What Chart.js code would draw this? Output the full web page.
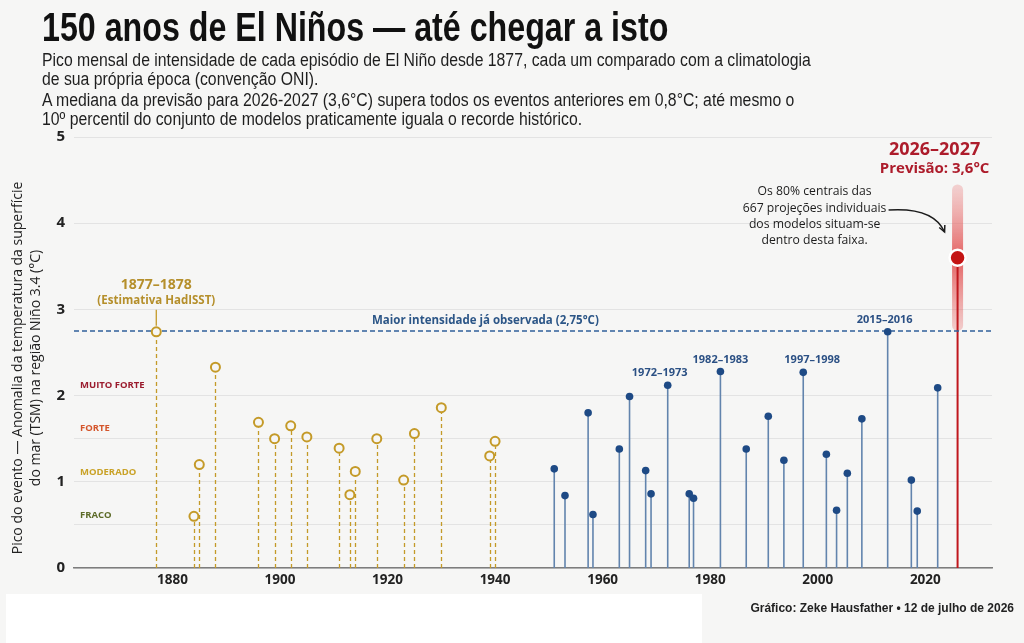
<!DOCTYPE html>
<html lang="pt">
<head>
<meta charset="utf-8">
<title>150 anos de El Niños</title>
<script src="https://cdn.jsdelivr.net/npm/chart.js@4.4.1/dist/chart.umd.min.js"></script>
<style>
  html, body { margin: 0; padding: 0; }
  body {
    width: 1024px;
    height: 643px;
    background: #f6f6f5;
    position: relative;
    overflow: hidden;
  }
  #grafico { position: absolute; left: 0; top: 0; }
  #titulo {
    position: absolute;
    left: 42px;
    top: 7px;
    margin: 0;
    font: bold 40px/40px "Liberation Sans", sans-serif;
    color: #111;
    white-space: nowrap;
    transform: scaleX(0.805);
    transform-origin: left top;
  }
  .subtitulo {
    position: absolute;
    left: 42px;
    margin: 0;
    font: 18px/19px "Liberation Sans", sans-serif;
    color: #1e1e1e;
    white-space: nowrap;
    transform: scaleX(0.877);
    transform-origin: left top;
  }
  #caixa {
    position: absolute;
    left: 6px;
    top: 594px;
    width: 696px;
    height: 49px;
    background: #fff;
  }
  #fonte {
    position: absolute;
    right: 10px;
    top: 601px;
    font: bold 12px "Liberation Sans", sans-serif;
    color: #222;
    white-space: nowrap;
  }
</style>
</head>
<body>
<canvas id="grafico" width="1024" height="643"></canvas>
<h1 id="titulo">150 anos de El Niños — até chegar a isto</h1>
<p class="subtitulo" style="top:51px">Pico mensal de intensidade de cada episódio de El Niño desde 1877, cada um comparado com a climatologia<br>de sua própria época (convenção ONI).</p>
<p class="subtitulo" style="top:91px">A mediana da previsão para 2026-2027 (3,6°C) supera todos os eventos anteriores em 0,8°C; até mesmo o<br>10º percentil do conjunto de modelos praticamente iguala o recorde histórico.</p>
<div id="caixa"></div>
<div id="fonte">Gráfico: Zeke Hausfather • 12 de julho de 2026</div>

<script>
// Eixos
const xTicks = [1880, 1900, 1920, 1940, 1960, 1980, 2000, 2020];
const yGridValues = [0, 0.5, 1, 1.5, 2, 3, 4, 5];

// Eventos antigos (estimativa HadISST) - ano de início e pico (°C)
const hadYears = [1877, 1884, 1885, 1888, 1896, 1899, 1902, 1905, 1911, 1913, 1914, 1918, 1923, 1925, 1930, 1939, 1940];
const hadPeaks = [2.74, 0.6, 1.2, 2.33, 1.69, 1.5, 1.65, 1.52, 1.39, 0.85, 1.12, 1.5, 1.02, 1.56, 1.86, 1.3, 1.47];

// Eventos observados desde 1950
const obsYears = [1951, 1953, 1957.3, 1958.2, 1963.1, 1965, 1968, 1969, 1972.1, 1976.1, 1976.9, 1981.9, 1986.7, 1990.8, 1993.7, 1997.3, 2001.6, 2003.5, 2005.5, 2008.2, 2013, 2017.4, 2018.5, 2022.3];
const obsPeaks = [1.15, 0.84, 1.8, 0.62, 1.38, 1.99, 1.13, 0.86, 2.12, 0.86, 0.81, 2.28, 1.38, 1.76, 1.25, 2.27, 1.32, 0.67, 1.1, 1.73, 2.74, 1.02, 0.66, 2.09];

// Recorde e previsão
const recordPeak = 2.75;
const forecastYear = 2026;
const forecastMedian = 3.6;
const forecastLow = 2.75;
const forecastHigh = 4.45;

// Categorias de intensidade (limiar inferior)
const strengthNames = ["FRACO", "MODERADO", "FORTE", "MUITO FORTE"];
const strengthThresholds = [0.5, 1.0, 1.5, 2.0];

// Eventos com rótulo
const labelledNames = ["1972–1973", "1982–1983", "1997–1998", "2015–2016"];
const labelledYears = [1972.1, 1981.9, 1997.3, 2013];
const labelledPeaks = [2.12, 2.28, 2.27, 2.74];

// Estilos
const xMin = 1861.7;
const xMax = 2032.4;
const labelShift = [-8, 0, 9, -3];
const strengthColors = ["#5d6b28", "#c9a227", "#d4552b", "#9b1c2e"];
const gold = "#c49a28";
const goldText = "#b58f2b";
const blueDot = "#1e4a85";
const blueStem = "#6284ad";
const blueText = "#2b5084";
const red = "#c0171d";
const redText = "#ad1c2b";
const bg = "#f6f6f5";
const sans = '"Open Sans", sans-serif';

// Plugin que desenha hastes, faixa da previsão e textos
const elNinoPlugin = {
  id: "elNino",
  beforeDatasetsDraw(chart) {
    const { ctx, chartArea } = chart;
    const x = chart.scales.x;
    const y = chart.scales.y;
    const y0 = y.getPixelForValue(0);
    ctx.save();

    // Rótulos das categorias
    ctx.font = "bold 9.5px " + sans;
    ctx.textAlign = "left";
    ctx.textBaseline = "middle";
    strengthNames.forEach(function (name, i) {
      ctx.fillStyle = strengthColors[i];
      ctx.fillText(name, chartArea.left + 6, y.getPixelForValue(strengthThresholds[i]) - 10);
    });

    // Faixa de 80% da previsão
    const fx = x.getPixelForValue(forecastYear);
    const top = y.getPixelForValue(forecastHigh);
    const bot = y.getPixelForValue(forecastLow);
    const mid = y.getPixelForValue(forecastMedian);
    const grad = ctx.createLinearGradient(0, top, 0, bot);
    grad.addColorStop(0, "rgba(236,140,140,0.35)");
    grad.addColorStop((mid - top) / (bot - top), "rgba(224,72,72,0.85)");
    grad.addColorStop(1, "rgba(232,110,110,0.3)");
    ctx.fillStyle = grad;
    ctx.beginPath();
    ctx.roundRect(fx - 5.5, top, 11, bot - top, 5.5);
    ctx.fill();

    // Hastes tracejadas (HadISST)
    ctx.strokeStyle = gold;
    ctx.lineWidth = 1.3;
    ctx.setLineDash([4, 3]);
    hadYears.forEach(function (yr, i) {
      const px = Math.round(x.getPixelForValue(yr)) + 0.5;
      ctx.beginPath();
      ctx.moveTo(px, y0);
      ctx.lineTo(px, y.getPixelForValue(hadPeaks[i]) + 5);
      ctx.stroke();
    });
    ctx.setLineDash([]);

    // Linha guia do evento 1877-1878
    const p1877 = x.getPixelForValue(hadYears[0]);
    ctx.lineWidth = 1.3;
    ctx.beginPath();
    ctx.moveTo(p1877, y.getPixelForValue(hadPeaks[0]) - 6);
    ctx.lineTo(p1877, y.getPixelForValue(hadPeaks[0]) - 22);
    ctx.stroke();

    // Hastes contínuas (observados)
    ctx.strokeStyle = blueStem;
    ctx.lineWidth = 1.6;
    obsYears.forEach(function (yr, i) {
      const px = x.getPixelForValue(yr);
      ctx.beginPath();
      ctx.moveTo(px, y0);
      ctx.lineTo(px, y.getPixelForValue(obsPeaks[i]));
      ctx.stroke();
    });

    // Haste da previsão
    ctx.strokeStyle = red;
    ctx.lineWidth = 2;
    ctx.beginPath();
    ctx.moveTo(fx, y0);
    ctx.lineTo(fx, mid);
    ctx.stroke();
    ctx.restore();
  },
  afterDatasetsDraw(chart) {
    const { ctx } = chart;
    const x = chart.scales.x;
    const y = chart.scales.y;
    ctx.save();
    ctx.textAlign = "center";
    ctx.textBaseline = "middle";

    // Linha de recorde
    ctx.fillStyle = "#2c5687";
    ctx.font = "bold 11.5px " + sans;
    ctx.fillText("Maior intensidade já observada (2,75°C)", x.getPixelForValue(1938.2), y.getPixelForValue(recordPeak) - 10);

    // 1877-1878
    const p1877 = x.getPixelForValue(hadYears[0]);
    const yr1877 = y.getPixelForValue(hadPeaks[0]);
    ctx.fillStyle = goldText;
    ctx.font = "bold 14px " + sans;
    ctx.fillText("1877–1878", p1877, yr1877 - 47);
    ctx.font = "bold 11.5px " + sans;
    ctx.fillText("(Estimativa HadISST)", p1877, yr1877 - 31);

    // Rótulos dos grandes eventos
    ctx.fillStyle = blueText;
    ctx.font = "bold 11px " + sans;
    labelledNames.forEach(function (name, i) {
      ctx.fillText(name, x.getPixelForValue(labelledYears[i]) + labelShift[i], y.getPixelForValue(labelledPeaks[i]) - 12);
    });

    // Previsão
    const fx = x.getPixelForValue(forecastYear);
    ctx.fillStyle = redText;
    ctx.font = "bold 18px " + sans;
    ctx.fillText("2026–2027", fx - 23, 150);
    ctx.font = "bold 15px " + sans;
    ctx.fillText("Previsão: 3,6°C", fx - 23, 169);

    // Nota sobre a faixa
    ctx.fillStyle = "#1c1c1c";
    ctx.font = "12.2px " + sans;
    const nota = ["Os 80% centrais das", "667 projeções individuais", "dos modelos situam-se", "dentro desta faixa."];
    nota.forEach(function (linha, i) {
      ctx.fillText(linha, fx - 143, 192 + i * 16.3);
    });

    // Seta curva
    const sx = fx - 69, sy = 210, ex = fx - 13, ey = 232, cx = fx - 24, cy = 207;
    ctx.strokeStyle = "#1c1c1c";
    ctx.lineWidth = 1.5;
    ctx.beginPath();
    ctx.moveTo(sx, sy);
    ctx.quadraticCurveTo(cx, cy, ex, ey);
    ctx.stroke();
    const ang = Math.atan2(ey - cy, ex - cx);
    ctx.beginPath();
    ctx.moveTo(ex - 7 * Math.cos(ang - 0.45), ey - 7 * Math.sin(ang - 0.45));
    ctx.lineTo(ex, ey);
    ctx.lineTo(ex - 7 * Math.cos(ang + 0.45), ey - 7 * Math.sin(ang + 0.45));
    ctx.stroke();

    // Título do eixo Y (duas linhas, rotacionado)
    ctx.fillStyle = "#222";
    ctx.font = "14px " + sans;
    ctx.translate(0, 368);
    ctx.rotate(-Math.PI / 2);
    ctx.fillText("Pico do evento — Anomalia da temperatura da superfície", 0, 18);
    ctx.fillText("do mar (TSM) na região Niño 3.4 (°C)", 0, 36);
    ctx.restore();
  }
};

document.addEventListener("DOMContentLoaded", function () {
  const ctx = document.getElementById("grafico").getContext("2d");

  new Chart(ctx, {
    type: "scatter",
    data: {
      datasets: [
        {
          label: "Previsão",
          data: [{ x: forecastYear, y: forecastMedian }],
          pointRadius: 8,
          pointBackgroundColor: "#c41414",
          pointBorderColor: "#ffffff",
          pointBorderWidth: 2.5,
          order: 0
        },
        {
          label: "Observados",
          data: obsYears.map(function (yr, i) { return { x: yr, y: obsPeaks[i] }; }),
          pointRadius: 3.8,
          pointBackgroundColor: blueDot,
          pointBorderWidth: 0,
          order: 1
        },
        {
          label: "HadISST",
          data: hadYears.map(function (yr, i) { return { x: yr, y: hadPeaks[i] }; }),
          pointRadius: 4.5,
          pointBackgroundColor: bg,
          pointBorderColor: gold,
          pointBorderWidth: 2,
          order: 2
        },
        {
          type: "line",
          label: "Recorde",
          data: [{ x: xMin, y: recordPeak }, { x: xMax, y: recordPeak }],
          borderColor: "#30609a",
          borderWidth: 1.5,
          borderDash: [5, 3],
          pointRadius: 0,
          order: 3
        }
      ]
    },
    options: {
      responsive: false,
      animation: false,
      layout: { padding: { top: 137, right: 32, left: 0, bottom: 0 } },
      plugins: {
        legend: { display: false },
        tooltip: { enabled: false }
      },
      scales: {
        x: {
          type: "linear",
          min: xMin,
          max: xMax,
          afterBuildTicks: function (scale) {
            scale.ticks = xTicks.map(function (v) { return { value: v }; });
          },
          afterFit: function (scale) { scale.height = 75; },
          ticks: {
            callback: function (v) { return String(v); },
            font: { family: "Open Sans", size: 13.5, weight: "bold" },
            color: "#222",
            padding: 4,
            maxRotation: 0
          },
          grid: { display: false, drawTicks: false },
          border: { display: true, color: "#7d7d7d", width: 1.5 }
        },
        y: {
          min: 0,
          max: 5,
          afterBuildTicks: function (scale) {
            scale.ticks = yGridValues.map(function (v) { return { value: v }; });
          },
          afterFit: function (scale) { scale.width = 74; },
          ticks: {
            callback: function (v) { return Number.isInteger(v) ? String(v) : ""; },
            font: { family: "Open Sans", size: 15, weight: "bold" },
            color: "#222",
            padding: 9
          },
          grid: { color: "#e3e3e3", lineWidth: 1, drawTicks: false },
          border: { display: false }
        }
      }
    },
    plugins: [elNinoPlugin]
  });
});
</script>
</body>
</html>
